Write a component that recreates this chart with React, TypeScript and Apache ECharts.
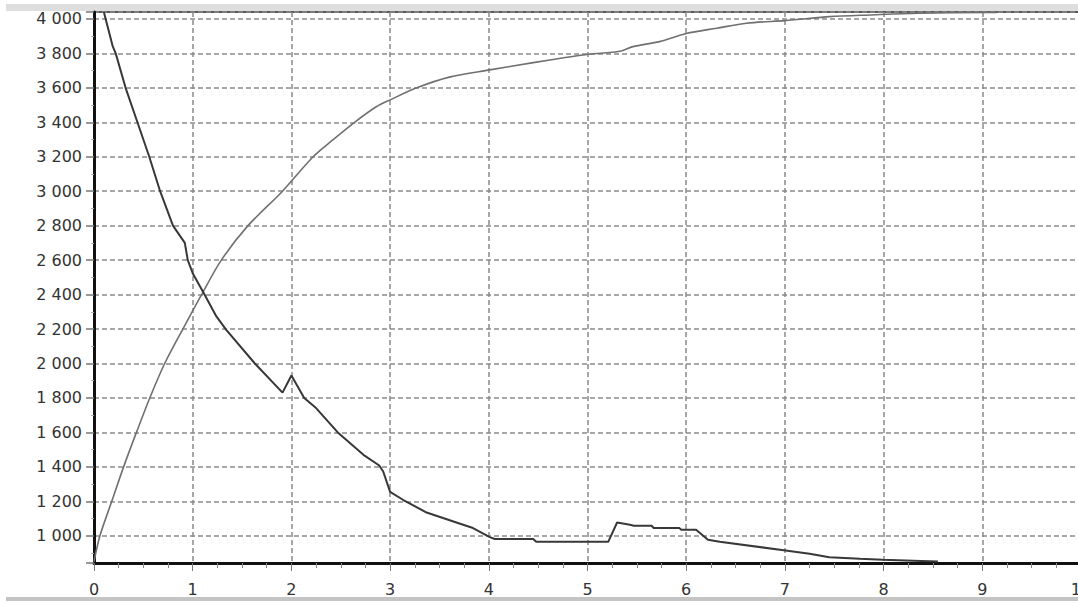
import React, { useEffect, useRef } from "react";
import * as echarts from "echarts";

// Decreasing curve (dark)
const decayX = [0.1, 0.19, 0.22, 0.32, 0.44, 0.56, 0.67, 0.8, 0.92, 0.95, 1.0, 1.11, 1.24, 1.34, 1.63, 1.91, 2.0, 2.13, 2.25, 2.47, 2.73, 2.89, 2.93, 3.0, 3.13, 3.37, 3.71, 3.84, 4.01, 4.06, 4.45, 4.48, 5.21, 5.3, 5.43, 5.47, 5.65, 5.67, 5.93, 5.95, 6.1, 6.22, 6.34, 6.95, 7.25, 7.45, 7.76, 7.99, 8.3, 8.55];
const decayY = [4040, 3840, 3800, 3600, 3400, 3200, 3000, 2800, 2700, 2600, 2524, 2410, 2273, 2195, 2000, 1831, 1930, 1800, 1741, 1600, 1470, 1408, 1373, 1255, 1209, 1135, 1070, 1045, 992, 981, 981, 965, 965, 1077, 1064, 1058, 1058, 1045, 1045, 1035, 1035, 977, 965, 919, 896, 876, 866, 861, 855, 850];

// Increasing curve (gray)
const growthX = [0, 0.06, 0.18, 0.3, 0.43, 0.565, 0.716, 0.9, 1.09, 1.29, 1.56, 1.91, 2.22, 2.42, 2.64, 2.86, 3.0, 3.27, 3.6, 4.01, 4.45, 4.79, 5.01, 5.33, 5.46, 5.73, 6.0, 6.31, 6.61, 7.0, 7.15, 7.45, 7.86, 8.35, 9.15];
const growthY = [850, 1000, 1200, 1400, 1600, 1800, 2000, 2200, 2400, 2600, 2800, 3000, 3200, 3298, 3400, 3490, 3530, 3600, 3662, 3704, 3746, 3777, 3795, 3812, 3839, 3868, 3915, 3946, 3975, 3990, 3998, 4013, 4023, 4033, 4038];

const xTicks = [0, 1, 2, 3, 4, 5, 6, 7, 8, 9, 10];
const yMin = 842;
const yMax = 4040;
const yStep = 200;

function fmtThousands(v: number): string {
  if (v >= 1000) {
    const th = Math.floor(v / 1000);
    const rest = String(Math.round(v % 1000)).padStart(3, "0");
    return `${th} ${rest}`;
  }
  return String(v);
}

export default function App() {
  const ref = useRef<HTMLDivElement>(null);
  useEffect(() => {
    if (!ref.current) return;
    const chart = echarts.init(ref.current, undefined, { renderer: "svg" });
    const font = "DejaVu Sans";
    chart.setOption({
      animation: false,
      backgroundColor: "#ffffff",
      graphic: [
        { type: "rect", shape: { x: 6, y: 4, width: 1078, height: 7 }, style: { fill: "#dedede" }, silent: true },
        { type: "rect", shape: { x: 6, y: 597, width: 1078, height: 4 }, style: { fill: "#c4c4c4" }, silent: true },
      ],
      grid: {
        left: 94,
        right: -3,
        top: 12,
        bottom: 40,
        outerBoundsMode: "none",
        containLabel: false,
        show: true,
        borderColor: "#5a5a5a",
        borderWidth: 2,
        backgroundColor: "transparent",
      },
      xAxis: {
        type: "value",
        min: xTicks[0],
        max: xTicks[xTicks.length - 1],
        interval: 1,
        axisLine: { show: true, onZero: false, lineStyle: { color: "#111", width: 3 } },
        axisTick: { show: true, length: 8, lineStyle: { color: "#777", width: 1 } },
        minorTick: { show: true, splitNumber: 4, length: 5, lineStyle: { color: "#888", width: 1 } },
        splitLine: { show: true, lineStyle: { color: "#8a8a8a", width: 1.5, type: [5, 3] } },
        axisLabel: {
          color: "#333",
          fontFamily: font,
          fontSize: 16,
          margin: 18,
          formatter: (v: number) => String(v),
        },
      },
      yAxis: {
        type: "value",
        min: yMin,
        max: yMax,
        splitNumber: 16,
        axisLine: { show: true, onZero: false, lineStyle: { color: "#111", width: 3 } },
        axisTick: { show: true, length: 8, lineStyle: { color: "#777", width: 1.5 } },
        minorTick: { show: true, splitNumber: 2, length: 3, lineStyle: { color: "#aaa", width: 1 } },
        splitLine: { show: true, lineStyle: { color: "#8a8a8a", width: 1.5, type: [5, 3] } },
        axisLabel: {
          color: "#333",
          fontFamily: font,
          fontSize: 16,
          margin: 12,
          showMinLabel: false,
          showMaxLabel: false,
          formatter: (v: number) => (Math.abs(v % yStep) < 1e-6 ? fmtThousands(v) : ""),
        },
      },
      series: [
        {
          type: "line",
          data: growthX.map((x, i) => [x, growthY[i]]),
          showSymbol: false,
          smooth: 0.3,
          lineStyle: { color: "#707070", width: 1.6 },
          z: 3,
        },
        {
          type: "line",
          data: decayX.map((x, i) => [x, decayY[i]]),
          showSymbol: false,
          lineStyle: { color: "#383838", width: 2 },
          z: 4,
        },
      ],
    });
    return () => chart.dispose();
  }, []);
  return (
    <div
      ref={ref}
      style={{ position: "fixed", left: 0, top: 0, width: 1078, height: 603, background: "#fff" }}
    />
  );
}
